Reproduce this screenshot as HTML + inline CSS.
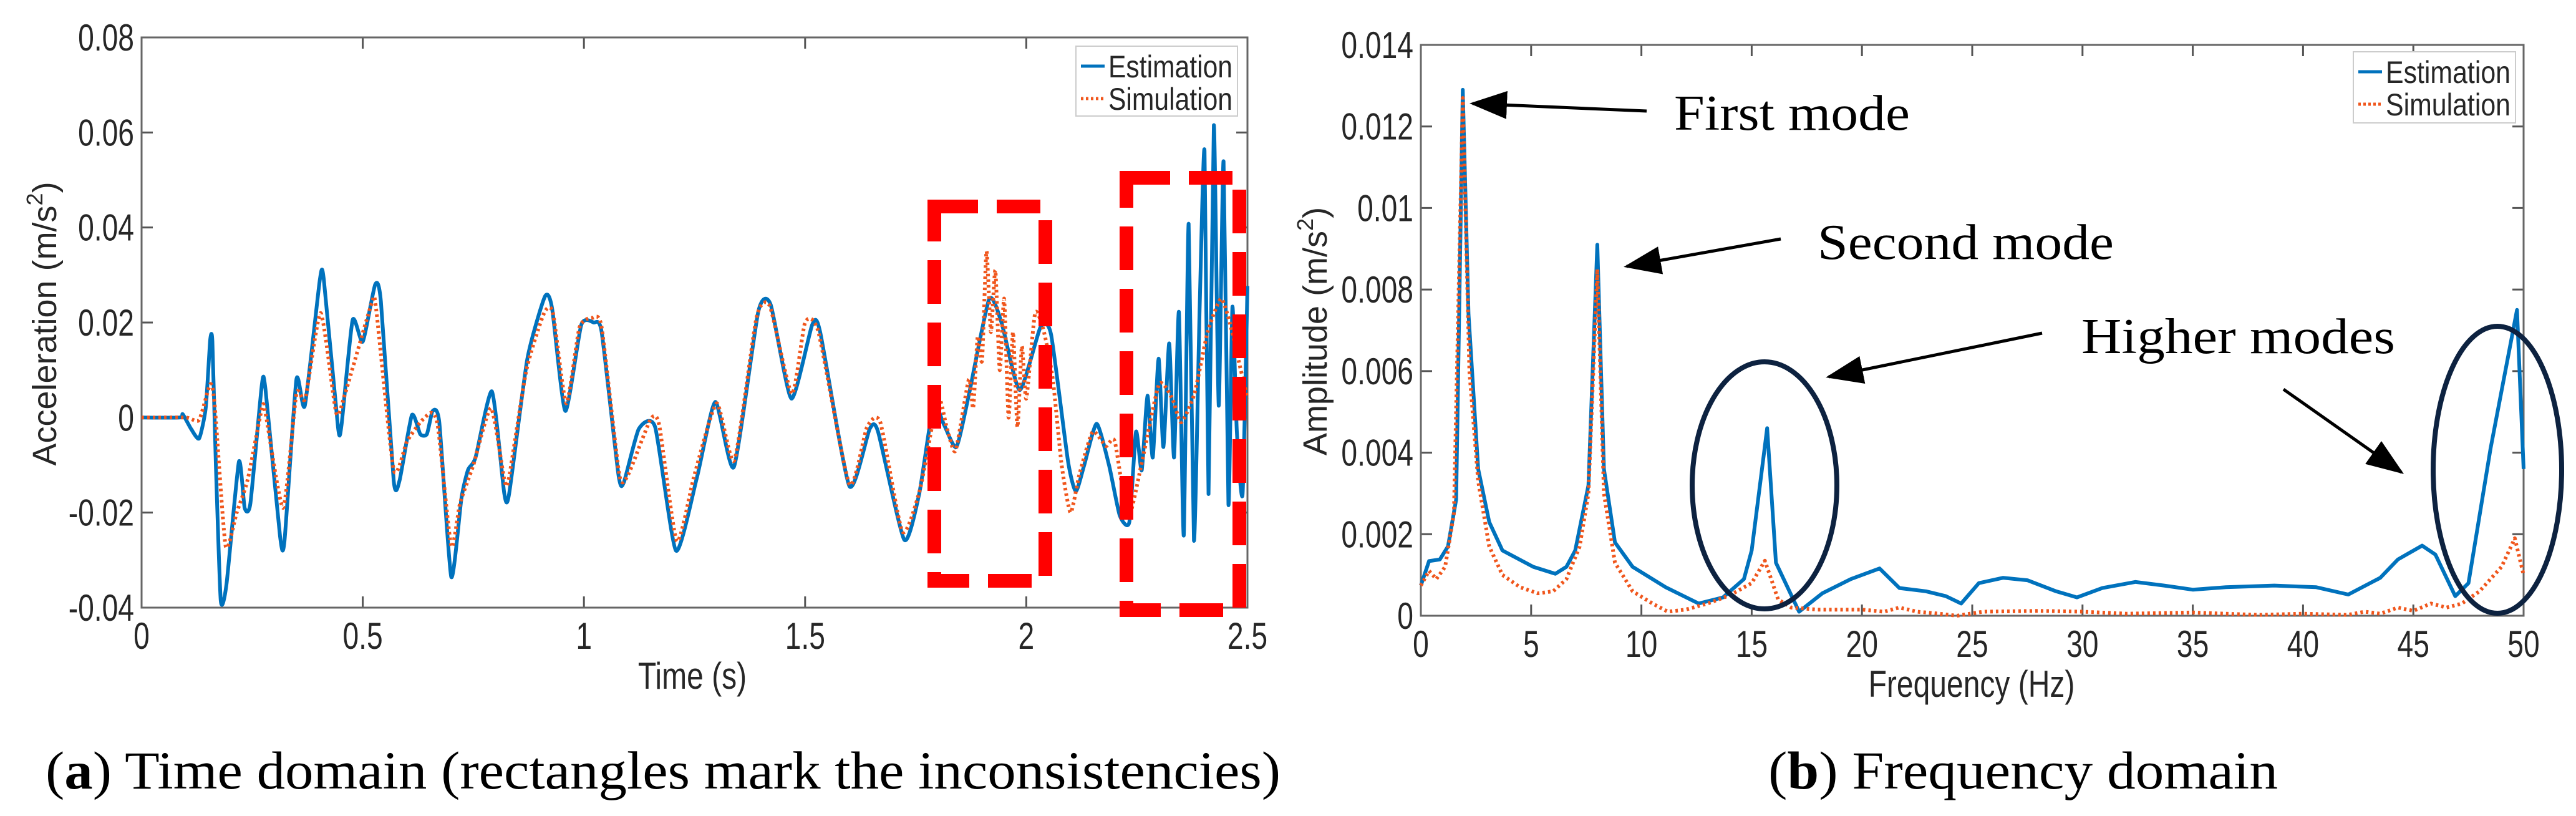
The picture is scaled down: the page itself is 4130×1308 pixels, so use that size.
<!DOCTYPE html>
<html><head><meta charset="utf-8">
<style>
html,body{margin:0;padding:0;background:#fff;}
svg{display:block;}
text{font-family:"Liberation Sans",sans-serif;fill:#262626;}
.cap{font-family:"Liberation Serif",serif;fill:#000;}
</style></head>
<body>
<svg id="fig" width="4130" height="1308" viewBox="0 0 4130 1308" xmlns="http://www.w3.org/2000/svg">
<defs>
<marker id="ah" markerWidth="12" markerHeight="9" refX="11" refY="4.5" orient="auto" markerUnits="strokeWidth">
<path d="M0,0 L12,4.5 L0,9 z" fill="#000"/>
</marker>
</defs>
<g id="chartA"></g>
<g id="chartB"></g>
<text class="cap" x="73" y="1264" font-size="86" textLength="1980" lengthAdjust="spacingAndGlyphs">(<tspan font-weight="bold">a</tspan>) Time domain (rectangles mark the inconsistencies)</text>
<text class="cap" x="2835" y="1264" font-size="86" textLength="817" lengthAdjust="spacingAndGlyphs">(<tspan font-weight="bold">b</tspan>) Frequency domain</text>
</svg>
<script>
// ---- Chart A data (time domain) ----
const aXTicks = [0, 0.5, 1, 1.5, 2, 2.5];
const aXTickLabels = ["0", "0.5", "1", "1.5", "2", "2.5"];
const aYTicks = [-0.04, -0.02, 0, 0.02, 0.04, 0.06, 0.08];
const aYTickLabels = ["-0.04", "-0.02", "0", "0.02", "0.04", "0.06", "0.08"];
const estT = [0,.086,.093,.112,.13,.145,.155,.16,.168,.179,.192,.22,.233,.246,.272,.28,.313,.323,.35,.369,.403,.412,.444,.452,.477,.5,.528,.541,.57,.583,.611,.63,.645,.658,.673,.7,.723,.738,.755,.792,.82,.831,.872,.912,.928,.958,.994,1.022,1.04,1.078,1.09,1.124,1.161,1.208,1.255,1.297,1.339,1.394,1.422,1.469,1.516,1.534,1.6,1.646,1.665,1.724,1.758,1.79,1.814,1.842,1.87,1.916,1.944,1.985,2.032,2.056,2.094,2.112,2.131,2.159,2.187,2.211,2.233,2.248,2.261,2.274,2.286,2.299,2.31,2.323,2.334,2.345,2.356,2.367,2.379,2.392,2.403,2.412,2.424,2.435,2.446,2.457,2.466,2.476,2.489,2.5];
const estV = [0,0,.0007,-.0024,-.0044,.002,.0162,.016,-.01,-.0385,-.035,-.0093,-.019,-.018,.007,.006,-.025,-.026,.008,.0025,.029,.029,-.002,-.0015,.0205,.016,.028,.0244,-.0133,-.0133,.0005,-.0035,-.0035,.0014,-.001,-.0335,-.017,-.011,-.0084,.0055,-.016,-.016,.0123,.0255,.023,.0014,.0195,.020,.018,-.012,-.0137,-.0024,-.002,-.028,-.0128,.0033,-.0104,.0222,.0238,.004,.0195,.018,-.0144,-.0024,-.003,-.0257,-.016,.0025,-.0015,-.0062,.0047,.0249,.02,.0058,.019,.0175,-.009,-.0155,-.01,-.0013,-.01,-.0205,-.022,-.003,-.0111,.0046,-.0084,.0124,-.0062,.0156,-.0084,.0222,-.0248,.0408,-.0259,.0233,.0561,-.0161,.0615,.0025,.0539,-.0183,.0233,-.003,-.0161,.0277];
const simT = [0,.1,.13,.155,.165,.19,.215,.24,.272,.28,.32,.35,.37,.405,.44,.46,.52,.53,.57,.6,.63,.655,.67,.7,.72,.75,.79,.82,.83,.87,.91,.93,.96,.99,1.02,1.04,1.08,1.1,1.15,1.17,1.21,1.25,1.3,1.34,1.39,1.42,1.47,1.5,1.53,1.6,1.64,1.67,1.72,1.76,1.8,1.82,1.84,1.87,1.88,1.89,1.9,1.91,1.92,1.93,1.94,1.95,1.96,1.97,1.98,1.99,2.0,2.02,2.04,2.06,2.08,2.1,2.12,2.15,2.18,2.2,2.23,2.26,2.3,2.33,2.35,2.38,2.41,2.44,2.46,2.48,2.5];
const simV = [0,0,-.0005,.007,.003,-.027,-.02,-.013,.002,.001,-.019,.005,.004,.022,.001,.005,.024,.023,-.011,-.005,-.001,.001,-.002,-.027,-.018,-.01,.002,-.013,-.013,.01,.022,.022,.003,.019,.021,.019,-.012,-.012,-.0005,-.0015,-.026,-.012,.003,-.009,.021,.0235,.005,.02,.018,-.014,-.002,-.001,-.024,-.015,.004,-.002,-.007,.008,.002,.017,.012,.035,.018,.031,.01,.025,0,.018,-.002,.015,.004,.022,.018,.008,-.01,-.02,-.012,-.003,-.006,-.005,-.021,-.01,.007,.004,-.001,.005,.018,.025,.02,.012,.004];
// ---- Chart B data (frequency domain) ----
const bXTicks = [0,5,10,15,20,25,30,35,40,45,50];
const bXTickLabels = ["0","5","10","15","20","25","30","35","40","45","50"];
const bYTicks = [0,0.002,0.004,0.006,0.008,0.01,0.012,0.014];
const bYTickLabels = ["0","0.002","0.004","0.006","0.008","0.01","0.012","0.014"];
const estF = [0,.37,.86,1.23,1.6,1.9,2.16,2.6,3.1,3.7,5.1,6.1,6.6,7.0,7.6,8.0,8.3,8.8,9.6,11.1,12.6,13.7,14.65,15.0,15.7,16.1,17.15,18.2,19.5,20.8,21.7,22.9,23.8,24.5,25.3,26.4,27.5,28.8,29.75,30.9,32.4,33.7,35.0,36.5,38.7,40.6,42.05,43.5,44.3,45.4,46.0,46.9,47.5,48.5,49.7,50];
const estA = [.00074,.00134,.00138,.0017,.00285,.0129,.0074,.0036,.0023,.0016,.0012,.00103,.0012,.0016,.0032,.0091,.0036,.0018,.0012,.0007,.0003,.00045,.0009,.0016,.0046,.0013,.0001,.00055,.0009,.00116,.00068,.0006,.00048,.0003,.0008,.00093,.00087,.0006,.00045,.00068,.00083,.00074,.00064,.0007,.00074,.0007,.00052,.00093,.00138,.00172,.0015,.00048,.0008,.0041,.0075,.0036];
const simF = [0,.37,.7,1.1,1.5,1.9,2.2,2.6,3.1,3.7,4.5,5.3,6.0,6.6,7.2,7.6,8.0,8.3,8.8,9.6,10.5,11.2,12,13,14,15,15.6,16.2,16.8,18,20,21,21.7,22.5,23.5,24.3,25.5,28,30,32,35,38,40,42,42.8,43.5,44.3,45,45.8,46.5,47.2,48,49,49.6,50];
const simA = [.00074,.0011,.0009,.0012,.0025,.0127,.006,.0033,.0017,.001,.0007,.00055,.0006,.0009,.0017,.003,.0085,.003,.0013,.0006,.0003,.0001,.00015,.0003,.0005,.0008,.00135,.0004,.0002,.00015,.00015,.0001,.0002,.0001,.00005,0,.0001,.00012,.0001,.00005,.00008,.00002,.00005,.00002,.0001,.00005,.0002,.00012,.0003,.0002,.0003,.0006,.0012,.0019,.001];

const NS = "http://www.w3.org/2000/svg";
function mk(parent, tag, attrs, txt){
  const e = document.createElementNS(NS, tag);
  for (const k in attrs) e.setAttribute(k, attrs[k]);
  if (txt !== undefined) e.textContent = txt;
  parent.appendChild(e);
  return e;
}
function condense(t, f){
  const w = t.getComputedTextLength();
  if (w > 0) { t.setAttribute("textLength", (w * f).toFixed(1)); t.setAttribute("lengthAdjust", "spacingAndGlyphs"); }
}
function pathFor(pts, smooth){
  if (!smooth) return pts.map((p, i) => (i ? "L" : "M") + p[0].toFixed(1) + "," + p[1].toFixed(1)).join(" ");
  let d = "M" + pts[0][0].toFixed(1) + "," + pts[0][1].toFixed(1);
  for (let i = 0; i < pts.length - 1; i++) {
    const p0 = pts[Math.max(0, i-1)], p1 = pts[i], p2 = pts[i+1], p3 = pts[Math.min(pts.length-1, i+2)];
    const k = 0.1;
    const c1x = p1[0] + (p2[0]-p0[0])*k, c1y = p1[1] + (p2[1]-p0[1])*k;
    const c2x = p2[0] - (p3[0]-p1[0])*k, c2y = p2[1] - (p3[1]-p1[1])*k;
    d += ` C${c1x.toFixed(1)},${c1y.toFixed(1)} ${c2x.toFixed(1)},${c2y.toFixed(1)} ${p2[0].toFixed(1)},${p2[1].toFixed(1)}`;
  }
  return d;
}

function drawChart(g, cfg){
  const {x0,x1,y0,y1,xmin,xmax,ymin,ymax} = cfg;
  const sx = v => x0 + (v - xmin) / (xmax - xmin) * (x1 - x0);
  const sy = v => y1 - (v - ymin) / (ymax - ymin) * (y1 - y0);
  const bg = mk(g, "rect", {x:x0, y:y0, width:x1-x0, height:y1-y0, fill:"#fff"});
  
  
  cfg.xTicks.forEach((t, i) => {
    const X = sx(t);
    mk(g, "line", {x1:X, y1:y1, x2:X, y2:y1-18, stroke:"#555", "stroke-width":3});
    mk(g, "line", {x1:X, y1:y0, x2:X, y2:y0+18, stroke:"#555", "stroke-width":3});
    const lb = mk(g, "text", {x:X, y:y1+66, "font-size":60, "text-anchor":"middle"}, cfg.xTickLabels[i]);
    
    
    condense(lb, 0.77);
  });
  cfg.yTicks.forEach((t, i) => {
    const Y = sy(t);
    mk(g, "line", {x1:x0, y1:Y, x2:x0+18, y2:Y, stroke:"#555", "stroke-width":3});
    mk(g, "line", {x1:x1, y1:Y, x2:x1-18, y2:Y, stroke:"#555", "stroke-width":3});
    const lb = mk(g, "text", {x:x0-12, y:Y+21, "font-size":60, "text-anchor":"end"}, cfg.yTickLabels[i]);
    
    
    condense(lb, 0.77);
  });
  const box = mk(g, "rect", {x:x0, y:y0, width:x1-x0, height:y1-y0, fill:"none", stroke:"#666", "stroke-width":3});
  
  
  cfg.series.forEach(s => {
    const pts = s.xs.map((v, i) => [sx(v), sy(s.ys[i])]);
    const p = mk(g, "path", {d:pathFor(pts, cfg.smooth), fill:"none", stroke:s.color, "stroke-width":s.w, "stroke-linejoin":"round"});
    if (s.dash) p.setAttribute("stroke-dasharray", s.dash);
    
    
  });
  const xt = mk(g, "text", {x:cfg.xTitle.x, y:cfg.xTitle.y, "font-size":60, "text-anchor":"middle"}, cfg.xTitle.text);
  
  
  condense(xt, 0.8);
  const yt = mk(g, "text", {x:0, y:0, "font-size":54, "text-anchor":"middle", transform:`translate(${cfg.yTitle.x},${cfg.yTitle.y}) rotate(-90)`});
  yt.appendChild(document.createTextNode(cfg.yTitle.text));
  mk(yt, "tspan", {dy:-22, "font-size":36}, "2");
  mk(yt, "tspan", {dy:22}, ")");
  
  
  const L = cfg.legend;
  const lg = mk(g, "g", {});
  
  
  mk(lg, "rect", {x:L.x, y:L.y, width:L.w, height:L.h, fill:"#fff", stroke:"#ccc", "stroke-width":2});
  mk(lg, "line", {x1:L.x+8, y1:L.y+32, x2:L.x+46, y2:L.y+32, stroke:"#0072BD", "stroke-width":5});
  mk(lg, "line", {x1:L.x+8, y1:L.y+84, x2:L.x+46, y2:L.y+84, stroke:"#F0561C", "stroke-width":5, "stroke-dasharray":"4 4"});
  const e1 = mk(lg, "text", {x:L.x+52, y:L.y+50, "font-size":50, textLength:L.w-60, lengthAdjust:"spacingAndGlyphs"}, "Estimation");
  
  
  const e2 = mk(lg, "text", {x:L.x+52, y:L.y+102, "font-size":50, textLength:L.w-60, lengthAdjust:"spacingAndGlyphs"}, "Simulation");
  
  
  return {sx, sy};
}

const gA = document.getElementById("chartA");
drawChart(gA, {x0:227, x1:2000, y0:60, y1:974, xmin:0, xmax:2.5, ymin:-0.04, ymax:0.08, smooth:true,
  xTicks:aXTicks, xTickLabels:aXTickLabels, yTicks:aYTicks, yTickLabels:aYTickLabels,
  series:[
    {xs:estT, ys:estV, color:"#0072BD", w:6, name:"estimation-line"},
    {xs:simT, ys:simV, color:"#F0561C", w:6, dash:"4 5", name:"simulation-line"}],
  xTitle:{x:1110, y:1104, text:"Time (s)"},
  yTitle:{x:90, y:519, text:"Acceleration (m/s"},
  legend:{x:1725, y:74, w:259, h:112}});

[[1498,331,178,600],[1806,285,181,693]].forEach((r, i) => {
  const rc = mk(gA, "rect", {x:r[0], y:r[1], width:r[2], height:r[3], fill:"none", stroke:"#F00", "stroke-width":22, "stroke-dasharray":"70 30"});
  
  
});

const gB = document.getElementById("chartB");
drawChart(gB, {x0:2278, x1:4046, y0:72, y1:987, xmin:0, xmax:50, ymin:0, ymax:0.014, smooth:false,
  xTicks:bXTicks, xTickLabels:bXTickLabels, yTicks:bYTicks, yTickLabels:bYTickLabels,
  series:[
    {xs:estF, ys:estA, color:"#0072BD", w:6, name:"estimation-spectrum"},
    {xs:simF, ys:simA, color:"#F0561C", w:6, dash:"4 5", name:"simulation-spectrum"}],
  xTitle:{x:3161, y:1117, text:"Frequency (Hz)"},
  yTitle:{x:2127, y:531, text:"Amplitude (m/s"},
  legend:{x:3773, y:83, w:260, h:114}});

[[2829,778,116,198],[4004,753,103,230]].forEach(e => {
  const el = mk(gB, "ellipse", {cx:e[0], cy:e[1], rx:e[2], ry:e[3], fill:"none", stroke:"#0d2240", "stroke-width":8});
  
  
});
[[2640,178,2361,166],[2855,383,2608,427],[3274,534,2932,604],[3661,624,3850,757]].forEach(a => {
  const ar = mk(gB, "line", {x1:a[0], y1:a[1], x2:a[2], y2:a[3], stroke:"#000", "stroke-width":5, "marker-end":"url(#ah)"});
  
  
});
[["First mode",2684,208,378],["Second mode",2914,415,475],["Higher modes",3337,566,503]].forEach(t => {
  const tx = mk(gB, "text", {x:t[1], y:t[2], "font-size":80, class:"cap", textLength:t[3], lengthAdjust:"spacingAndGlyphs"}, t[0]);
  
  
});
</script>
</body></html>
